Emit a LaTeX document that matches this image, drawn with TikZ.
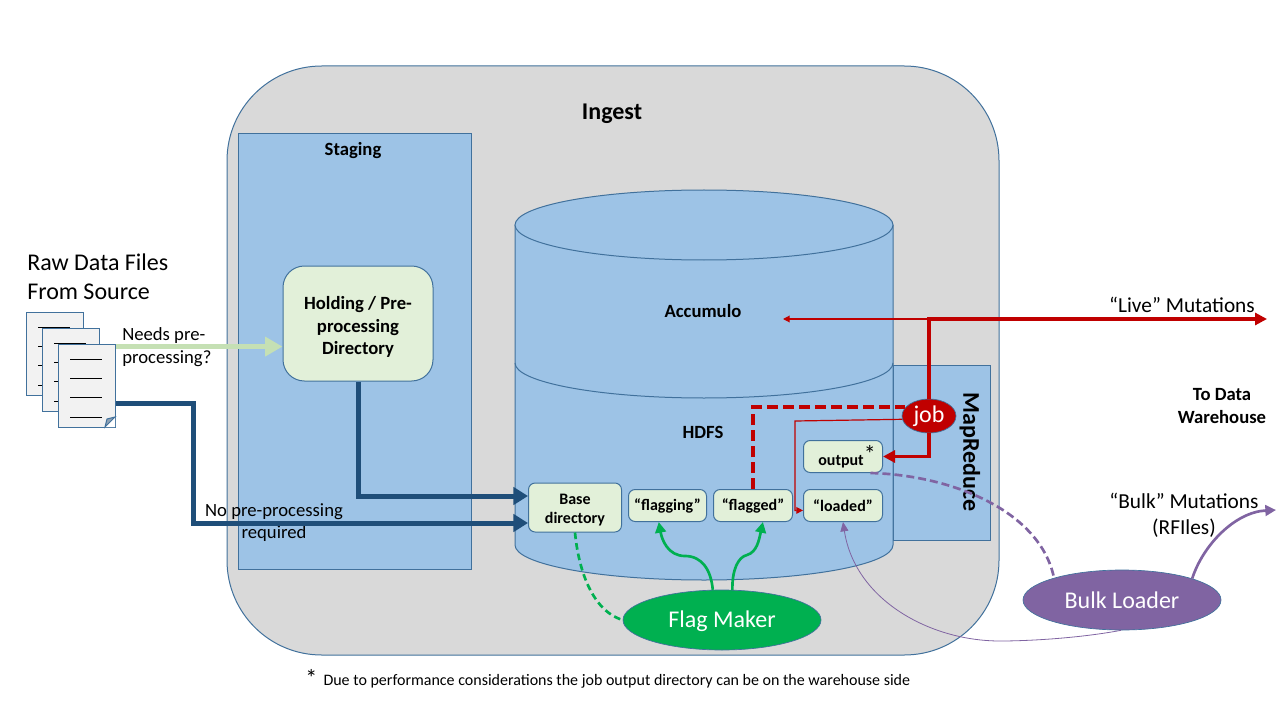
\documentclass[tikz,border=0pt]{standalone}
\usepackage{fontspec}
\setmainfont{Carlito}
\usepackage{tikz}
\usetikzlibrary{shapes.geometric, arrows.meta}
\definecolor{ingestgray}{HTML}{D9D9D9}
\definecolor{areablue}{HTML}{9DC3E6}
\definecolor{edgeblue}{HTML}{41719C}
\definecolor{dirgreen}{HTML}{E2F0D9}
\definecolor{palegreen}{HTML}{C5E0B4}
\definecolor{flowblue}{HTML}{1F4E79}
\definecolor{jobred}{HTML}{C00000}
\definecolor{flaggreen}{HTML}{00B050}
\definecolor{bulkpurple}{HTML}{8064A2}
\definecolor{docgray}{HTML}{F2F2F2}
\newcommand{\fsize}[1]{\fontsize{#1}{#1}\selectfont}
\tikzset{
  areabox/.style={draw=edgeblue, fill=areablue, line width=0.75pt, rectangle, inner sep=0pt},
  dirbox/.style={draw=edgeblue, fill=dirgreen, line width=0.75pt, rectangle, rounded corners=5pt, inner sep=0pt, align=center, font=\fsize{12}\bfseries},
  jobnode/.style={ellipse, draw=edgeblue, line width=0.5pt, inner sep=0pt, text=white, font=\fsize{18}},
  plainlabel/.style={inner sep=0pt, align=center},
  boldlabel/.style={inner sep=0pt, align=center, font=\fsize{14}\bfseries},
  bigflow/.style={flowblue, line width=3.75pt, -{Triangle[length=11pt, width=13pt]}},
  redflow/.style={jobred, line width=2.6pt, -{Triangle[length=9pt, width=9pt]}},
  thinred/.style={jobred, line width=0.9pt, -{Triangle[length=5pt, width=5pt]}},
  greenflow/.style={flaggreen, line width=2pt, -{Triangle[length=8pt, width=8pt]}},
  greendash/.style={flaggreen, line width=2pt, dash pattern=on 5pt off 3pt},
  purpledash/.style={bulkpurple, line width=2pt, dash pattern=on 6pt off 3pt},
}
\begin{document}
\begin{tikzpicture}[x=0.75pt, y=-0.75pt]
\useasboundingbox (0, 0) rectangle (1280, 720);
\node[areabox, fill=ingestgray, rounded corners=71pt, minimum width=579pt, minimum height=441.75pt] (ingest) at (613, 360.5) {};
\node[areabox, minimum width=174.75pt, minimum height=326.25pt] (staging) at (354.5, 351.5) {};
\node[areabox, minimum width=72.75pt, minimum height=131.25pt] (mapreduce) at (941.5, 452.5) {};
\draw[areabox] (515, 225) -- (515, 545) arc[start angle=180, end angle=360, x radius=189, y radius=-35] -- (893, 225);
\draw[edgeblue, line width=0.75pt] (515, 363) arc[start angle=180, end angle=360, x radius=189, y radius=-35];
\draw[areabox] (704, 225) ellipse[x radius=189, y radius=35];

\foreach \n/\docx/\docy in {a/26/312, b/42/328, c/58/344} {
  \node[areabox, fill=docgray, anchor=north west, minimum width=42.75pt, minimum height=62.25pt] (doc\n) at (\docx, \docy) {};
  \foreach \liney in {15, 34, 53, 73}
    \draw[black, line width=0.75pt] ([xshift=9pt, yshift=-\liney*0.75pt]doc\n.north west) -- ++(24pt, 0);
}
\fill[white] (115, 427) -- (105, 427) -- (115, 417) -- cycle;
\draw[edgeblue, fill=gray!50!areablue, line width=0.75pt] (105, 427) -- (107, 419) -- (115, 417) -- cycle;
\node[plainlabel, anchor=west, align=left, font=\fsize{18}] (rawlabel) at (27, 277) {Raw Data Files\\[3.75pt]From Source};

\node[dirbox, rounded corners=16pt, font=\fsize{14}\bfseries, minimum width=112.5pt, minimum height=86.25pt] (holding) at (358, 323.5) {\rule{0pt}{15pt}Holding / Pre-\\[3pt]processing\\[3pt]Directory};
\node[dirbox, minimum width=69.75pt, minimum height=36.75pt] (base) at (575, 507.5) {\rule{0pt}{12pt}Base\\[2.5pt]directory};
\node[dirbox, minimum width=58.5pt, minimum height=24pt] (flagging) at (667.5, 505.5) {“flagging”};
\node[dirbox, minimum width=59.25pt, minimum height=24pt] (flagged) at (753, 505.5) {“flagged”};
\node[dirbox, minimum width=59.25pt, minimum height=24pt] (loaded) at (843, 505.5) {“loaded”};
\node[dirbox, minimum width=59.25pt, minimum height=24pt] (output) at (843, 456.5) {\hspace{6pt}output\raisebox{2pt}{\fsize{18}\mdseries *}};

\node[jobnode, fill=jobred, minimum width=40.5pt, minimum height=25.5pt] (job) at (929, 416) {job};
\node[jobnode, fill=flaggreen, minimum width=148.5pt, minimum height=45pt] (flagmaker) at (722, 620) {\rule{0pt}{15pt}Flag Maker};
\node[jobnode, fill=bulkpurple, minimum width=148.5pt, minimum height=45pt] (bulkloader) at (1122, 600) {Bulk Loader};

\node[plainlabel, font=\fsize{18}\bfseries] (ingestlabel) at (612, 114) {Ingest};
\node[boldlabel] (staginglabel) at (353, 151) {Staging};
\node[boldlabel] (accumulolabel) at (703, 311) {Accumulo};
\node[boldlabel] (hdfslabel) at (703, 432) {HDFS};
\node[boldlabel, rotate=-90, font=\fsize{18}\bfseries] (mapreducelabel) at (970, 452) {MapReduce};
\node[boldlabel] (warehouselabel) at (1222, 406) {To Data\\[3pt]Warehouse};
\node[plainlabel, anchor=west, align=left, font=\fsize{14}] (needslabel) at (122, 347) {Needs pre-\\[3pt]processing?};
\node[plainlabel, font=\fsize{14}] (nopre) at (274, 523) {No pre-processing\\[2.5pt]required};
\node[plainlabel, font=\fsize{16}] (livelabel) at (1182, 305) {“Live” Mutations};
\node[plainlabel, font=\fsize{16}] (bulklabel) at (1184, 515) {“Bulk” Mutations\\[3.5pt](RFIles)};
\node[plainlabel, anchor=west, font=\fsize{12}] (footnote) at (305, 679) {\raisebox{-1pt}{\fsize{18}*}\hspace{2pt} Due to performance considerations the job output directory can be on the warehouse side};

\coordinate (liveend) at (1267, 319);
\coordinate (liveturn) at (job.north |- liveend);
\coordinate (accumuloend) at (783, 319);
\coordinate (bulkend) at (1276, 510);
\coordinate (redturn) at (flagged.north |- job.160);
\coordinate (thinturn) at (795, 421);

\draw[-{Triangle[length=13pt, width=14pt]}, palegreen, line width=3.75pt] (docc.east |- holding.197) -- (holding.197);
\draw[bigflow] (docc.east |- 116, 403) -- (193, 403) |- (base.west |- 0, 523);
\draw[bigflow] (holding.south) |- (base.west |- 0, 496);

\draw[redflow] (job.north) -- (liveturn) -- (liveend);
\draw[thinred] (liveturn) -- (accumuloend);
\draw[redflow] (job.south) |- (output.east);
\draw[jobred, line width=3pt, dash pattern=on 8pt off 4pt] (flagged.north) -- (redturn) -- (job.160);
\draw[thinred] (job.187) -- (thinturn) |- (loaded.187);

\draw[greendash] (base.south) .. controls (578, 565) and (590, 610) .. (flagmaker.west);
\draw[greenflow] (flagmaker.107) .. controls (711, 570) and (702, 556) .. (685, 556) .. controls (668, 556) and (662, 540) .. (flagging.242);
\draw[greenflow] (flagmaker.71) .. controls (732, 570) and (738, 557) .. (747, 555) .. controls (757, 552) and (759, 540) .. (flagged.301);

\draw[purpledash] (output.329) .. controls (950, 475) and (1040, 510) .. (bulkloader.162);
\draw[bulkpurple, line width=0.6pt, -{Triangle[length=7pt, width=6pt]}] (bulkloader.268) .. controls (1080, 638) and (1030, 641) .. (1000, 641) .. controls (930, 641) and (855, 600) .. (loaded.south);
\draw[bulkpurple, line width=2pt, -{Triangle[length=8pt, width=8pt]}] (bulkloader.17) .. controls (1203, 545) and (1235, 512) .. (bulkend);
\end{tikzpicture}
\end{document}
